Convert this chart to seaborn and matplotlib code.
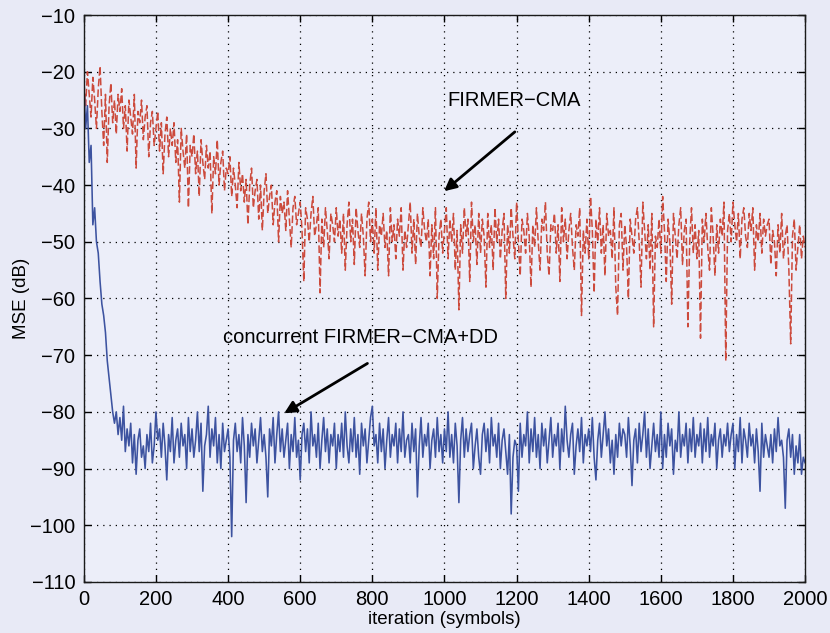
import numpy as np
import pandas as pd
import matplotlib
matplotlib.use("Agg")
import matplotlib.pyplot as plt
import seaborn as sns

# MSE of the FIRMER-CMA equaliser (dB), one value every 5 symbols from 0 to 2000
mse_cma = [
    -22, -26, -20, -24, -28, -21, -25, -30, -23, -19, -27, -33, -24, -36, -26, -22, -29, -25, -31, -24,
    -27, -23, -30, -26, -34, -25, -28, -31, -24, -37, -27, -29, -25, -32, -28, -26, -35, -29, -27, -33,
    -30, -27, -34, -29, -38, -31, -28, -35, -30, -33, -29, -36, -32, -43, -30, -34, -37, -31, -44, -33,
    -35, -31, -38, -34, -42, -32, -36, -39, -33, -37, -34, -45, -35, -38, -32, -40, -36, -34, -41, -37,
    -38, -35, -42, -37, -40, -44, -36, -41, -38, -43, -39, -47, -40, -37, -44, -41, -39, -46, -40, -48,
    -41, -38, -45, -42, -40, -47, -43, -41, -50, -42, -45, -43, -48, -41, -46, -51, -44, -42, -47, -45,
    -43, -48, -57, -44, -46, -50, -45, -42, -49, -47, -44, -59, -46, -51, -44, -48, -53, -45, -47, -50,
    -44, -49, -46, -52, -45, -55, -47, -43, -50, -46, -54, -44, -48, -51, -45, -49, -56, -46, -43, -50,
    -46, -52, -44, -55, -47, -49, -45, -51, -48, -56, -44, -50, -47, -53, -46, -49, -44, -55, -48, -51,
    -47, -43, -52, -46, -54, -45, -49, -51, -44, -48, -50, -46, -56, -47, -53, -44, -60, -49, -46, -52,
    -48, -44, -53, -46, -50, -45, -55, -48, -62, -47, -52, -44, -49, -46, -57, -43, -50, -47, -54, -45,
    -52, -46, -49, -58, -45, -51, -47, -55, -44, -50, -46, -53, -48, -45, -60, -47, -52, -44, -49, -53,
    -43, -50, -56, -46, -48, -52, -45, -49, -58, -47, -51, -44, -50, -55, -46, -48, -43, -52, -56, -47,
    -48, -45, -52, -47, -57, -44, -50, -46, -53, -48, -45, -51, -55, -47, -49, -44, -63, -48, -52, -46,
    -53, -42, -48, -59, -46, -50, -44, -52, -47, -56, -45, -49, -48, -53, -44, -58, -63, -47, -45, -55,
    -47, -51, -60, -46, -49, -52, -46, -44, -50, -58, -43, -48, -53, -47, -55, -45, -65, -49, -51, -46,
    -52, -42, -48, -57, -46, -50, -61, -45, -49, -53, -47, -44, -54, -48, -46, -65, -50, -44, -52, -47,
    -53, -48, -67, -46, -50, -45, -51, -55, -44, -49, -56, -47, -52, -46, -49, -43, -71, -48, -45, -50,
    -43, -47, -50, -45, -53, -46, -44, -49, -51, -45, -48, -44, -55, -47, -50, -45, -52, -46, -49, -47,
    -46, -54, -48, -50, -56, -47, -52, -45, -53, -49, -47, -55, -68, -49, -46, -55, -51, -47, -53, -49,
    -51,
]

# MSE of the concurrent FIRMER-CMA+DD equaliser (dB), same symbol grid
mse_cdd = [
    -22, -30, -26, -36, -33, -47, -44, -50, -52, -57, -61, -63, -66, -71, -74, -77, -80, -82, -80, -84,
    -81, -85, -79, -87, -83, -86, -82, -89, -84, -91, -85, -83, -88, -86, -90, -84, -87, -82, -89, -86,
    -80, -85, -83, -88, -82, -86, -92, -84, -87, -81, -89, -85, -83, -88, -82, -86, -84, -90, -81, -87,
    -83, -88, -85, -80, -87, -82, -94, -86, -84, -79, -88, -83, -86, -81, -89, -84, -90, -82, -87, -85,
    -83, -88, -102, -85, -82, -87, -84, -89, -81, -86, -96, -84, -88, -82, -86, -83, -89, -85, -81, -87,
    -84, -88, -95, -83, -86, -81, -89, -84, -80, -87, -83, -88, -85, -82, -90, -84, -87, -81, -88, -85,
    -92, -84, -82, -87, -83, -89, -80, -86, -84, -88, -82, -90, -85, -81, -87, -83, -89, -84, -86, -82,
    -90, -84, -87, -82, -88, -80, -86, -89, -83, -87, -81, -88, -84, -91, -82, -86, -83, -89, -85, -81,
    -79, -86, -84, -89, -82, -87, -83, -90, -85, -81, -88, -84, -86, -82, -89, -83, -87, -80, -88, -85,
    -84, -89, -82, -87, -83, -95, -86, -81, -88, -84, -86, -82, -90, -85, -83, -88, -81, -87, -84, -89,
    -83, -87, -80, -88, -84, -89, -82, -86, -96, -85, -81, -88, -83, -87, -84, -82, -90, -86, -83, -88,
    -91, -84, -82, -87, -83, -89, -81, -86, -84, -88, -82, -90, -85, -83, -87, -91, -84, -98, -88, -85,
    -86, -94, -82, -88, -84, -86, -80, -89, -83, -87, -81, -88, -84, -90, -82, -86, -83, -89, -85, -81,
    -88, -84, -86, -82, -90, -83, -87, -79, -85, -88, -84, -82, -91, -86, -83, -87, -81, -89, -84, -86,
    -83, -87, -81, -88, -92, -85, -82, -88, -84, -80, -86, -83, -89, -85, -91, -84, -88, -82, -86, -83,
    -84, -88, -81, -86, -93, -85, -83, -89, -82, -87, -84, -80, -88, -83, -90, -86, -82, -87, -84, -88,
    -80, -90, -84, -88, -82, -86, -83, -91, -85, -87, -80, -88, -84, -86, -82, -89, -83, -87, -81, -88,
    -84, -86, -82, -89, -83, -87, -81, -88, -84, -86, -82, -90, -85, -83, -88, -84, -86, -82, -87, -84,
    -82, -90, -84, -87, -81, -89, -83, -85, -88, -82, -86, -84, -89, -83, -87, -94, -82, -88, -84, -86,
    -88, -84, -89, -83, -87, -81, -86, -85, -88, -97, -85, -83, -88, -84, -91, -86, -89, -84, -91, -88,
    -89,
]

x_ticks = list(range(0, 2001, 200))
y_ticks = list(range(-110, -9, 10))
step = 5

df_cma = pd.DataFrame({"iteration": np.arange(len(mse_cma)) * step, "mse": mse_cma})
df_cdd = pd.DataFrame({"iteration": np.arange(len(mse_cdd)) * step, "mse": mse_cdd})

sns.set_theme(style="ticks")
plt.rcParams["font.family"] = ["Liberation Sans", "DejaVu Sans"]
plt.rcParams["text.color"] = "black"
plt.rcParams["axes.labelcolor"] = "black"
plt.rcParams["xtick.color"] = "black"
plt.rcParams["ytick.color"] = "black"

bg = "#e8eaf6"
fig = plt.figure(figsize=(8.3, 6.33), dpi=100, facecolor=bg)
ax = fig.add_axes([0.101, 0.0806, 0.869, 0.8957])
ax.set_facecolor("#eceef9")

sns.lineplot(data=df_cma, x="iteration", y="mse", ax=ax,
             color="#cc4a3c", linewidth=1.1, legend=False)
sns.lineplot(data=df_cdd, x="iteration", y="mse", ax=ax,
             color="#3d53a0", linewidth=1.15, legend=False)
ax.lines[0].set_linestyle((0, (5, 2)))

ax.set_xlim(0, 2000)
ax.set_ylim(-110, -10)
ax.set_xticks(x_ticks)
ax.set_yticks(y_ticks)
ax.set_xticklabels([str(t) for t in x_ticks], fontsize=14.5)
ax.set_yticklabels([f"\u2212{abs(t)}" for t in y_ticks], fontsize=14.5)
ax.tick_params(direction="in", length=5, width=1, top=True, right=True, colors="black")
ax.tick_params(axis="x", pad=6)
ax.tick_params(axis="y", pad=6)
ax.grid(True, color="black", linestyle=(0, (1, 4)), linewidth=0.9)
for s in ax.spines.values():
    s.set_color("#1a1a1a")
    s.set_linewidth(1.0)

ax.set_xlabel("iteration (symbols)", fontsize=13.5, labelpad=1, color="black")
ax.set_ylabel("MSE (dB)", fontsize=13.5, labelpad=0, color="black")

arrow = dict(arrowstyle="-|>", color="black", lw=2, mutation_scale=18)
ax.annotate("", xy=(993, -41.4), xytext=(1201, -30.3), arrowprops=arrow)
ax.text(1007, -25, "FIRMER\u2212CMA", fontsize=14.5, ha="left", va="center", color="black")
ax.annotate("", xy=(549, -80.5), xytext=(793, -71.2), arrowprops=arrow)
ax.text(386, -66.8, "concurrent FIRMER\u2212CMA+DD", fontsize=14.5, ha="left", va="center", color="black")

fig.savefig("out.png", dpi=100, facecolor=bg)
